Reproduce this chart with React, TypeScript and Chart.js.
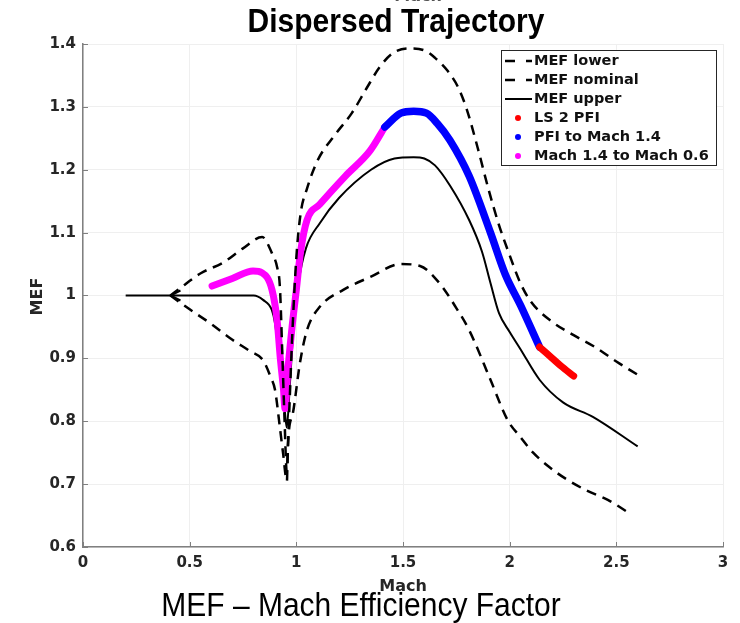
import { useEffect, useRef } from 'react';
import { Chart, registerables } from 'chart.js';

Chart.register(...registerables);

// ---- data (Mach, MEF) ----
const upperDashMach = [0.41, 0.46, 0.55, 0.66, 0.75, 0.84, 0.886, 0.91, 0.923, 0.935, 0.945, 0.955, 0.965, 0.98, 1.0, 1.02, 1.05, 1.1, 1.18, 1.26, 1.33, 1.39, 1.45, 1.53, 1.6, 1.65, 1.71, 1.76, 1.8, 1.85, 1.9, 1.95, 2.0, 2.05, 2.1, 2.2, 2.3, 2.4, 2.5, 2.6];
const upperDashMef = [1.0, 1.013, 1.035, 1.053, 1.075, 1.093, 1.067, 1.045, 1.013, 0.9, 0.8, 0.72, 0.8, 0.93, 1.06, 1.13, 1.17, 1.215, 1.255, 1.29, 1.33, 1.363, 1.385, 1.393, 1.39, 1.378, 1.357, 1.33, 1.295, 1.235, 1.17, 1.112, 1.064, 1.02, 0.99, 0.958, 0.937, 0.918, 0.895, 0.874];

const lowerDashMach = [0.41, 0.5, 0.6, 0.69, 0.78, 0.844, 0.88, 0.9, 0.923, 0.9375, 0.956, 0.96, 0.984, 1.017, 1.05, 1.11, 1.22, 1.35, 1.49, 1.58, 1.67, 1.75, 1.81, 1.91, 1.99, 2.05, 2.11, 2.19, 2.27, 2.36, 2.46, 2.56];
const lowerDashMef = [1.0, 0.978, 0.955, 0.932, 0.912, 0.897, 0.87, 0.85, 0.79, 0.75, 0.705, 0.76, 0.813, 0.893, 0.945, 0.982, 1.009, 1.03, 1.05, 1.047, 1.02, 0.98, 0.945, 0.866, 0.802, 0.775, 0.75, 0.726, 0.707, 0.69, 0.675, 0.654];

const solidMach = [0.2, 0.8, 0.844, 0.885, 0.9, 0.92, 0.935, 0.947, 0.955, 0.97, 0.985, 1.01, 1.045, 1.11, 1.2, 1.35, 1.46, 1.55, 1.6, 1.65, 1.72, 1.81, 1.87, 1.91, 1.95, 2.0, 2.05, 2.14, 2.25, 2.39, 2.6];
const solidMef = [1.0, 1.0, 0.993, 0.977, 0.956, 0.9, 0.85, 0.813, 0.79, 0.86, 0.94, 1.02, 1.075, 1.115, 1.155, 1.2, 1.218, 1.22, 1.218, 1.207, 1.175, 1.12, 1.07, 1.02, 0.972, 0.942, 0.915, 0.866, 0.83, 0.807, 0.76];

const magentaMach = [0.605, 0.7, 0.797, 0.84, 0.886, 0.91, 0.925, 0.94, 0.947, 0.96, 0.98, 1.0, 1.02, 1.05, 1.11, 1.23, 1.345, 1.415];
const magentaMef = [1.015, 1.027, 1.039, 1.036, 1.009, 0.96, 0.9, 0.85, 0.82, 0.88, 0.95, 1.009, 1.07, 1.12, 1.145, 1.19, 1.23, 1.268];

const blueMach = [1.415, 1.49, 1.55, 1.61, 1.66, 1.72, 1.81, 1.91, 1.98, 2.05, 2.14];
const blueMef = [1.268, 1.29, 1.293, 1.29, 1.274, 1.247, 1.19, 1.1, 1.033, 0.985, 0.918];

const redMach = [2.14, 2.2, 2.24, 2.3];
const redMef = [0.918, 0.9, 0.888, 0.872];

const arrowTip = { mach: 0.41, mef: 1.0 };

const seriesLabels = ['-MEF lower', '-MEF nominal', 'MEF upper', 'LS 2 PFI', 'PFI to Mach 1.4', 'Mach 1.4 to Mach 0.6'];
const xTickLabels = ['0', '0.5', '1', '1.5', '2', '2.5', '3'];
const yTickLabels = ['0.6', '0.7', '0.8', '0.9', '1', '1.1', '1.2', '1.3', '1.4'];

const titleText = 'Dispersed Trajectory';
const xAxisTitle = 'Mach';
const yAxisTitle = 'MEF';
const captionText = 'MEF \u2013 Mach Efficiency Factor';
const cutTopText = 'Mach';

const zip = (xs: number[], ys: number[]) => xs.map((x, i) => ({ x, y: ys[i] }));

const TEXT_DARK = '#262626';

const overlayPlugin = {
  id: 'overlay',
  afterDatasetsDraw(chart: any) {
    const ctx = chart.ctx;
    const xs = chart.scales.x;
    const ys = chart.scales.y;
    const px = xs.getPixelForValue(arrowTip.mach);
    const py = ys.getPixelForValue(arrowTip.mef);
    ctx.save();
    ctx.strokeStyle = '#000';
    ctx.lineWidth = 2;
    ctx.beginPath();
    ctx.moveTo(px + 10, py - 5);
    ctx.lineTo(px, py);
    ctx.lineTo(px + 10, py + 5);
    ctx.stroke();
    ctx.restore();
  },
  afterDraw(chart: any) {
    const ctx = chart.ctx;
    const area = chart.chartArea;
    const xs = chart.scales.x;
    const ys = chart.scales.y;
    ctx.save();
    // inward tick marks
    ctx.strokeStyle = '#7f7f7f';
    ctx.lineWidth = 1;
    ys.ticks.forEach((t: any) => {
      const p = Math.round(ys.getPixelForValue(t.value)) + 0.5;
      ctx.beginPath();
      ctx.moveTo(area.left, p);
      ctx.lineTo(area.left + 5, p);
      ctx.stroke();
    });
    xs.ticks.forEach((t: any) => {
      const p = Math.round(xs.getPixelForValue(t.value)) + 0.5;
      ctx.beginPath();
      ctx.moveTo(p, area.bottom);
      ctx.lineTo(p, area.bottom - 5);
      ctx.stroke();
    });

    // titles
    ctx.textAlign = 'center';
    ctx.textBaseline = 'alphabetic';

    ctx.fillStyle = '#000';
    ctx.save();
    ctx.translate(396, 32);
    ctx.scale(1, 1.08);
    ctx.font = 'bold 30px "Liberation Sans"';
    ctx.fillText(titleText, 0, 0);
    ctx.restore();

    ctx.fillStyle = '#555';
    ctx.font = 'bold 16px "DejaVu Sans"';
    ctx.fillText(cutTopText, 418, 1);

    ctx.fillStyle = TEXT_DARK;
    ctx.font = 'bold 16px "DejaVu Sans"';
    ctx.fillText(xAxisTitle, (area.left + area.right) / 2, 591);

    ctx.save();
    ctx.translate(42, (area.top + area.bottom) / 2 + 1);
    ctx.rotate(-Math.PI / 2);
    ctx.fillText(yAxisTitle, 0, 0);
    ctx.restore();

    ctx.fillStyle = '#000';
    ctx.save();
    ctx.translate(361, 616);
    ctx.scale(1, 1.1);
    ctx.font = '30px "Liberation Sans"';
    ctx.fillText(captionText, 0, 0);
    ctx.restore();

    // legend
    const lx = 501, ly = 50, lw = 215, lh = 115;
    ctx.fillStyle = '#fff';
    ctx.fillRect(lx, ly, lw, lh);
    ctx.strokeStyle = '#262626';
    ctx.lineWidth = 1;
    ctx.strokeRect(lx + 0.5, ly + 0.5, lw, lh);
    ctx.textAlign = 'left';
    ctx.textBaseline = 'middle';
    ctx.font = 'bold 14.5px "DejaVu Sans"';
    chart.data.datasets.forEach((ds: any, i: number) => {
      const cy = ly + 11 + i * 19;
      const kind = ds.legendKind;
      ctx.strokeStyle = ds.borderColor;
      ctx.fillStyle = ds.borderColor;
      if (kind === 'dash') {
        ctx.lineWidth = 2.5;
        ctx.beginPath();
        ctx.moveTo(505, cy);
        ctx.lineTo(515, cy);
        ctx.moveTo(526, cy);
        ctx.lineTo(532, cy);
        ctx.stroke();
      } else if (kind === 'solid') {
        ctx.lineWidth = 2;
        ctx.beginPath();
        ctx.moveTo(505, cy);
        ctx.lineTo(532, cy);
        ctx.stroke();
      } else {
        ctx.beginPath();
        ctx.arc(518, cy, 3, 0, Math.PI * 2);
        ctx.fill();
      }
      ctx.fillStyle = '#111';
      ctx.fillText(ds.label.replace(/^-/, ''), 534, cy + 0.5);
    });
    ctx.restore();
  },
};

export default function App() {
  const ref = useRef<HTMLCanvasElement>(null);
  useEffect(() => {
    const canvas = ref.current!;
    const common = { pointRadius: 0, pointHoverRadius: 0, fill: false, cubicInterpolationMode: 'monotone' as const };
    const chart = new Chart(canvas, {
      type: 'line',
      data: {
        datasets: [
          { ...common, label: seriesLabels[0], data: zip(lowerDashMach, lowerDashMef), borderColor: '#000', borderWidth: 2.5, borderDash: [10, 7], order: 0, legendKind: 'dash' } as any,
          { ...common, label: seriesLabels[1], data: zip(upperDashMach, upperDashMef), borderColor: '#000', borderWidth: 2.5, borderDash: [10, 7], order: 0, legendKind: 'dash' } as any,
          { ...common, label: seriesLabels[2], data: zip(solidMach, solidMef), borderColor: '#000', borderWidth: 2, order: 2, legendKind: 'solid' } as any,
          { ...common, label: seriesLabels[3], data: zip(redMach, redMef), borderColor: '#ff0000', borderWidth: 7, borderCapStyle: 'round', borderJoinStyle: 'round', order: 1, legendKind: 'dot' } as any,
          { ...common, label: seriesLabels[4], data: zip(blueMach, blueMef), borderColor: '#0000ff', borderWidth: 7.5, borderCapStyle: 'round', borderJoinStyle: 'round', order: 1, legendKind: 'dot' } as any,
          { ...common, label: seriesLabels[5], data: zip(magentaMach, magentaMef), borderColor: '#ff00ff', borderWidth: 7, borderCapStyle: 'round', borderJoinStyle: 'round', order: 1, legendKind: 'dot' } as any,
        ],
      },
      options: {
        responsive: false,
        animation: false,
        events: [],
        layout: { padding: { top: 44, right: 17, left: 0, bottom: 0 } },
        plugins: { legend: { display: false }, title: { display: false }, tooltip: { enabled: false } },
        scales: {
          x: {
            type: 'linear',
            min: 0,
            max: 3,
            afterFit: (s: any) => { s.height = 76; },
            ticks: {
              stepSize: 0.5,
              padding: 7,
              color: TEXT_DARK,
              font: { family: 'DejaVu Sans', size: 15, weight: 'bold' },
              maxRotation: 0,
              autoSkip: false,
              callback: (_v: any, i: number) => xTickLabels[i],
            },
            grid: { color: '#efefef', drawTicks: false },
            border: { color: '#808080', width: 1.5 },
          },
          y: {
            type: 'linear',
            min: 0.6,
            max: 1.4,
            afterFit: (s: any) => { s.width = 83; },
            ticks: {
              stepSize: 0.1,
              padding: 7,
              color: TEXT_DARK,
              font: { family: 'DejaVu Sans', size: 15, weight: 'bold' },
              autoSkip: false,
              callback: (_v: any, i: number) => yTickLabels[i],
            },
            grid: { color: '#efefef', drawTicks: false },
            border: { color: '#808080', width: 1.5 },
          },
        },
      },
      plugins: [overlayPlugin],
    });
    return () => chart.destroy();
  }, []);
  return (
    <div style={{ position: 'fixed', left: 0, top: 0, width: 740, height: 623, background: '#fff' }}>
      <canvas ref={ref} width={740} height={623} style={{ width: 740, height: 623, display: 'block' }} />
    </div>
  );
}
